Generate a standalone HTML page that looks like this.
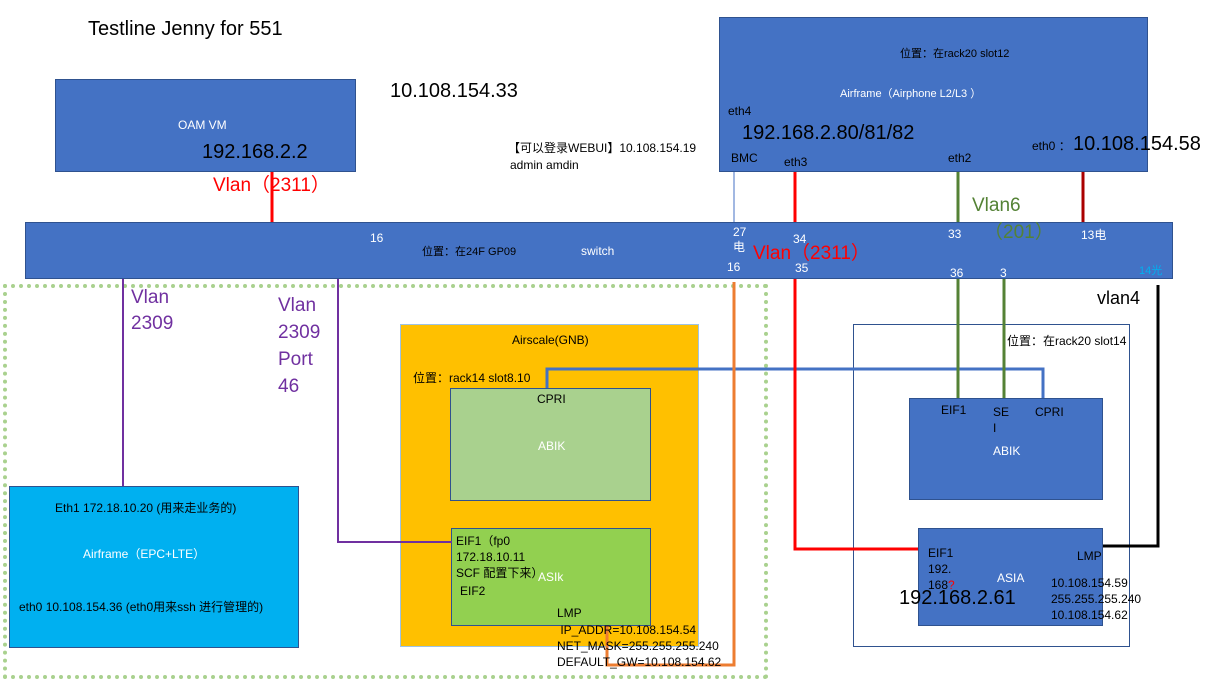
<!DOCTYPE html>
<html><head><meta charset="utf-8"><style>
body{margin:0;width:1215px;height:681px;background:#fff;position:relative;overflow:hidden;font-family:"Liberation Sans","Noto Sans CJK SC",sans-serif}
.b{position:absolute;box-sizing:border-box;border:1px solid #2F528F}
.t{position:absolute;white-space:nowrap;line-height:1.25;font-size:12px;color:#000}
.w{color:#fff}
</style></head><body>
<div class="b" style="left:3px;top:284px;width:765px;height:395px;border:4px dotted #A9D18E"></div>
<div class="b" style="left:55px;top:79px;width:301px;height:93px;background:#4472C4"></div>
<div class="b" style="left:719px;top:17px;width:429px;height:155px;background:#4472C4"></div>
<div class="b" style="left:25px;top:222px;width:1148px;height:57px;background:#4472C4"></div>
<div class="b" style="left:400px;top:324px;width:299px;height:323px;background:#FFC000;border-color:#9DC3E6"></div>
<div class="b" style="left:450px;top:388px;width:201px;height:113px;background:#A9D18E"></div>
<div class="b" style="left:451px;top:528px;width:200px;height:98px;background:#92D050"></div>
<div class="b" style="left:9px;top:486px;width:290px;height:162px;background:#00B0F0"></div>
<div class="b" style="left:853px;top:324px;width:277px;height:323px;background:transparent"></div>
<div class="b" style="left:909px;top:398px;width:194px;height:102px;background:#4472C4"></div>
<div class="b" style="left:918px;top:528px;width:185px;height:98px;background:#4472C4"></div>
<svg width="1215" height="681" style="position:absolute;left:0;top:0" fill="none">
<line x1="272" y1="172" x2="272" y2="222" stroke="#f00" stroke-width="3"/>
<polyline points="123,279 123,486" stroke="#7030A0" stroke-width="2"/>
<polyline points="338,279 338,542 452,542" stroke="#7030A0" stroke-width="2"/>
<polyline points="547,388 547,369 1043,369 1043,398" stroke="#4472C4" stroke-width="3"/>
<line x1="795" y1="172" x2="795" y2="222" stroke="#f00" stroke-width="3"/>
<polyline points="795,279 795,549 918,549" stroke="#f00" stroke-width="3"/>
<line x1="958" y1="172" x2="958" y2="222" stroke="#548235" stroke-width="3"/>
<line x1="958" y1="279" x2="958" y2="398" stroke="#548235" stroke-width="3"/>
<line x1="1004" y1="279" x2="1004" y2="398" stroke="#548235" stroke-width="3"/>
<line x1="1083" y1="172" x2="1083" y2="222" stroke="#A00" stroke-width="3"/>
<polyline points="1158,285 1158,546 1103,546" stroke="#000" stroke-width="3"/>
<line x1="734" y1="172" x2="734" y2="222" stroke="#4472C4" stroke-width="1"/>
<polyline points="734,282 734,665 607,665 607,626" stroke="#ED7D31" stroke-width="3"/>
</svg>
<div class="t" style="left:88px;top:17px;font-size:20px">Testline Jenny for 551</div>
<div class="t w" style="left:178px;top:118px">OAM VM</div>
<div class="t" style="left:202px;top:140px;font-size:20px">192.168.2.2</div>
<div class="t" style="left:390px;top:79px;font-size:20px">10.108.154.33</div>
<div class="t" style="left:508px;top:141px">【可以登录WEBUI】10.108.154.19</div>
<div class="t" style="left:510px;top:158px">admin amdin</div>
<div class="t" style="left:213px;top:174px;font-size:19px;color:#f00">Vlan（2311）</div>
<div class="t" style="left:900px;top:48px;font-size:11px">位置：在rack20 slot12</div>
<div class="t w" style="left:840px;top:88px;font-size:11px">Airframe（Airphone L2/L3 ）</div>
<div class="t" style="left:728px;top:104px">eth4</div>
<div class="t" style="left:742px;top:121px;font-size:20px">192.168.2.80/81/82</div>
<div class="t" style="left:731px;top:151px">BMC</div>
<div class="t" style="left:784px;top:155px">eth3</div>
<div class="t" style="left:948px;top:151px">eth2</div>
<div class="t" style="left:1032px;top:139px">eth0 ：</div>
<div class="t" style="left:1073px;top:132px;font-size:20px">10.108.154.58</div>
<div class="t w" style="left:370px;top:231px">16</div>
<div class="t" style="left:422px;top:246px;font-size:11px">位置：在24F GP09</div>
<div class="t w" style="left:581px;top:244px">switch</div>
<div class="t w" style="left:733px;top:225px">27<br>电</div>
<div class="t w" style="left:727px;top:260px">16</div>
<div class="t w" style="left:793px;top:232px">34</div>
<div class="t w" style="left:795px;top:261px">35</div>
<div class="t" style="left:753px;top:242px;font-size:19px;color:#f00">Vlan（2311）</div>
<div class="t w" style="left:948px;top:227px">33</div>
<div class="t w" style="left:950px;top:266px">36</div>
<div class="t w" style="left:1000px;top:266px">3</div>
<div class="t" style="left:972px;top:194px;font-size:19px;color:#548235">Vlan6</div>
<div class="t" style="left:984px;top:221px;font-size:19px;color:#548235">（201）</div>
<div class="t w" style="left:1081px;top:228px">13电</div>
<div class="t" style="left:1139px;top:265px;font-size:11px;color:#00B0F0">14光</div>
<div class="t" style="left:1097px;top:287px;font-size:18px">vlan4</div>
<div class="t" style="left:131px;top:285px;font-size:19px;color:#7030A0;line-height:26px">Vlan<br>2309</div>
<div class="t" style="left:278px;top:292px;font-size:19px;color:#7030A0;line-height:27px">Vlan<br>2309<br>Port<br>46</div>
<div class="t" style="left:512px;top:333px">Airscale(GNB)</div>
<div class="t" style="left:413px;top:371px">位置：rack14 slot8.10</div>
<div class="t" style="left:537px;top:392px">CPRI</div>
<div class="t w" style="left:538px;top:439px">ABIK</div>
<div class="t" style="left:456px;top:533px;line-height:16px">EIF1（fp0<br>172.18.10.11<br>SCF 配置下来）</div>
<div class="t w" style="left:538px;top:570px">ASIk</div>
<div class="t" style="left:460px;top:584px">EIF2</div>
<div class="t" style="left:557px;top:606px">LMP</div>
<div class="t" style="left:557px;top:622px;line-height:16px">&nbsp;IP_ADDR=10.108.154.54<br>NET_MASK=255.255.255.240<br>DEFAULT_GW=10.108.154.62</div>
<div class="t" style="left:55px;top:501px">Eth1 172.18.10.20 (用来走业务的)</div>
<div class="t w" style="left:83px;top:547px">Airframe（EPC+LTE）</div>
<div class="t" style="left:19px;top:600px">eth0 10.108.154.36 (eth0用来ssh 进行管理的)</div>
<div class="t" style="left:1007px;top:334px">位置：在rack20 slot14</div>
<div class="t" style="left:941px;top:403px">EIF1</div>
<div class="t" style="left:993px;top:404px;line-height:16px">SE<br>I</div>
<div class="t" style="left:1035px;top:405px">CPRI</div>
<div class="t w" style="left:993px;top:444px">ABIK</div>
<div class="t" style="left:928px;top:545px;line-height:16px">EIF1<br>192.<br>168<span style="color:#f00">?</span></div>
<div class="t w" style="left:997px;top:571px">ASIA</div>
<div class="t" style="left:1077px;top:549px">LMP</div>
<div class="t" style="left:1051px;top:575px;line-height:16px">10.108.154.59<br>255.255.255.240<br>10.108.154.62</div>
<div class="t" style="left:899px;top:586px;font-size:20px">192.168.2.61</div>
</body></html>
